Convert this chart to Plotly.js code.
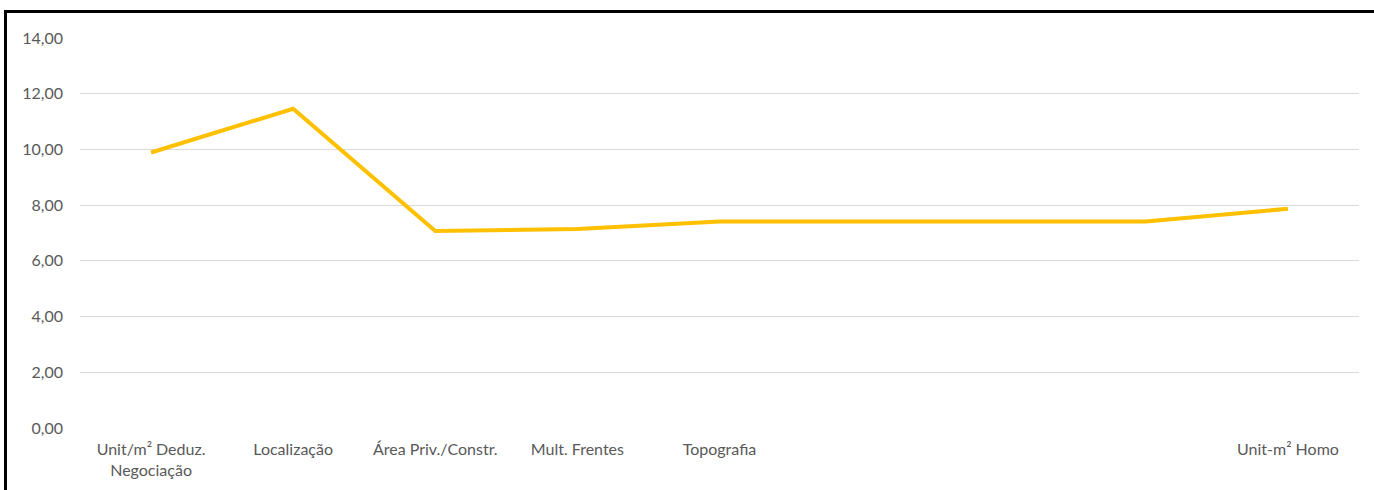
<!DOCTYPE html>
<html>
<head>
<meta charset="utf-8">
<script src="https://cdn.plot.ly/plotly-3.0.1.min.js"></script>
<style>
  html, body { margin: 0; padding: 0; background: #fff; }
  #chart { width: 1374px; height: 490px; }
  #frame { position: absolute; left: 4px; top: 10px; width: 1380px; height: 500px;
           border-left: 3px solid #000; border-top: 3px solid #000; pointer-events: none; }
</style>
</head>
<body>
<div id="chart"></div>
<div id="frame"></div>
<script>
const categories = [
  "Unit/m² Deduz.<br>Negociação",
  "Localização",
  "Área Priv./Constr.",
  "Mult. Frentes",
  "Topografia",
  "",
  "",
  "",
  "Unit-m² Homo"
];
const values = [9.89, 11.46, 7.07, 7.14, 7.41, 7.41, 7.41, 7.41, 7.87];
const yTicks = [0, 2, 4, 6, 8, 10, 12, 14];

const positions = categories.map((_, i) => i);

const trace = {
  x: positions,
  y: values,
  type: 'scatter',
  mode: 'lines',
  line: { color: '#FFC000', width: 4 },
  hoverinfo: 'skip'
};

const layout = {
  width: 1374,
  height: 490,
  margin: { l: 80, r: 15, t: 38, b: 62 },
  paper_bgcolor: '#ffffff',
  plot_bgcolor: '#ffffff',
  separators: ',.',
  showlegend: false,
  font: { family: 'Lato, "Open Sans", sans-serif', size: 16, color: '#595959' },
  xaxis: {
    range: [-0.5, categories.length - 0.5],
    tickvals: positions,
    ticktext: categories,
    showgrid: false,
    zeroline: false,
    showline: false,
    ticks: '',
    ticklabelstandoff: 10,
    fixedrange: true
  },
  yaxis: {
    range: [0, 14],
    tickvals: yTicks,
    tickformat: '.2f',
    showgrid: true,
    gridcolor: '#d9d9d9',
    gridwidth: 1,
    zeroline: false,
    showline: false,
    ticks: '',
    ticklabelstandoff: 16,
    fixedrange: true
  }
};

Plotly.newPlot('chart', [trace], layout, { displayModeBar: false, staticPlot: true });
</script>
</body>
</html>
